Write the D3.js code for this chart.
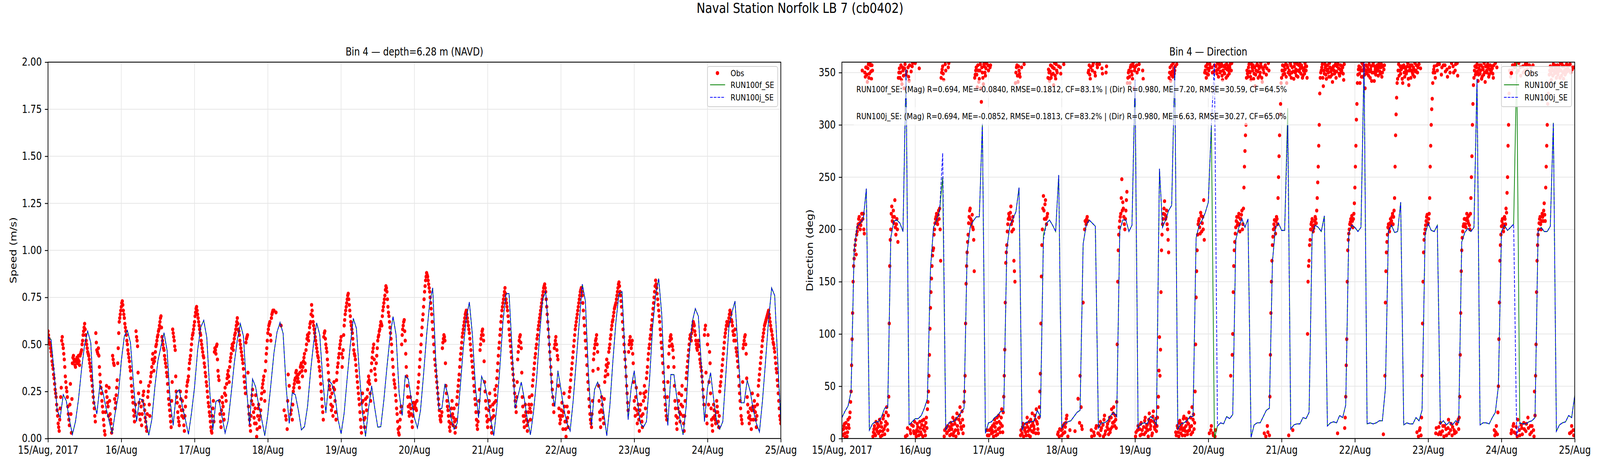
<!DOCTYPE html>
<html>
<head>
<meta charset="utf-8">
<script src="https://cdn.jsdelivr.net/npm/d3@7"></script>
<style>
  html, body { margin: 0; padding: 0; background: #fff; overflow: hidden; }
  svg { display: block; width: 100vw; height: 100vh; font-family: "DejaVu Sans", sans-serif; }
</style>
</head>
<body>
<svg id="fig"></svg>
<script>
// ---------------------------------------------
// Naval Station Norfolk LB 7 (cb0402), bin 4
// obs every 10 min (two arrays, :00/:20/:40 and :10/:30/:50), model hourly
// all series start 15/Aug/2017 00:00 UTC
// ---------------------------------------------

const runNames = ['RUN100f_SE', 'RUN100j_SE'];
const runColors = ['#008000', '#0000ff'];

const speedTicks = [0, 0.25, 0.5, 0.75, 1.0, 1.25, 1.5, 1.75, 2.0];
const dirTicks = [0, 50, 100, 150, 200, 250, 300, 350];

// observed speed (m/s) at :00, :20, :40
const obsSpeed = [
  .57,.53,.50,.46,.41,.37,.32,.26,.22,.15,.08,.04,
  .16,.27,.54,.48,.42,.33,.27,.22,.13,.07,.29,.03,
  .40,.44,.41,.38,.42,.40,.44,.39,.45,.47,.52,.57,
  .61,.55,.50,.46,.44,.40,.36,.31,.25,.19,.12,.56,
  .47,.45,.44,.34,.27,.20,.14,.07,.02,.25,.22,.17,
  .27,.13,.08,.05,.42,.39,.16,.23,.31,.48,.62,.66,
  .70,.73,.68,.64,.59,.55,.50,.45,.41,.36,.28,.22,
  .15,.09,.18,.54,.49,.24,.13,.30,.07,.20,.25,.15,
  .09,.04,.22,.28,.12,.33,.38,.45,.36,.43,.49,.52,
  .55,.58,.62,.65,.54,.50,.47,.42,.38,.33,.25,.18,
  .12,.06,.30,.56,.52,.47,.25,.19,.11,.07,.25,.15,
  .20,.11,.04,.17,.25,.30,.33,.40,.44,.50,.55,.58,
  .62,.67,.70,.66,.62,.58,.55,.50,.46,.43,.38,.33,
  .28,.22,.17,.12,.06,.03,.16,.09,.48,.45,.50,.36,
  .31,.13,.06,.22,.17,.10,.27,.20,.32,.36,.30,.41,
  .45,.50,.47,.53,.56,.60,.64,.58,.55,.50,.46,.42,
  .37,.30,.24,.53,.55,.17,.10,.04,.20,.26,.14,.08,
  .23,.01,.12,.18,.06,.15,.24,.29,.33,.20,.41,.48,
  .56,.60,.62,.52,.66,.68,.68,null,.67,null,null,null,
  null,.60,null,null,.15,null,.10,.05,.34,.28,null,.15,
  .10,.25,.29,.32,.36,.30,.34,.27,.38,.40,.33,.41,
  .45,.36,.50,.55,.52,.59,.62,.71,.65,.60,.56,.52,
  .48,.44,.41,.36,.29,.21,.14,.54,.57,.50,.46,.39,
  .31,.26,.18,.24,.12,.30,.20,.10,.35,.40,.45,.50,
  .54,.38,.47,.60,.66,.70,.74,.77,.71,.65,.60,.56,
  .50,.45,.42,.36,.30,.24,.18,.10,.03,.24,.14,.06,
  .21,.15,.26,.33,.29,.20,.40,.46,.50,.37,.31,.44,
  .52,.55,.58,.62,.60,.68,.72,.76,.81,.78,.70,.65,
  .59,.53,.46,.38,.31,.27,.20,.13,.05,.02,.10,.17,
  .55,.60,.63,.52,.38,.28,.17,.12,.22,.13,.06,.19,
  .17,.19,.15,.24,.30,.38,.46,.55,.63,.70,.78,.84,
  .88,.86,.82,.78,.72,.66,.58,.50,.42,.36,.30,.24,
  .18,.12,.09,.14,.51,.55,.52,.28,.20,.15,.09,.04,
  .12,.20,.07,.16,.03,.10,.22,.28,.34,.42,.48,.54,
  .58,.62,.66,.68,.64,.60,.56,.50,.44,.38,.32,.25,
  .18,.10,.05,.14,.26,.50,.55,.58,.52,.30,.20,.12,
  .06,.15,.24,.10,.03,.18,.12,.26,.20,.32,.40,.48,
  .55,.62,.68,.72,.76,.80,.74,.70,.65,.58,.52,.46,
  .40,.34,.28,.20,.14,.30,.46,.52,.55,.48,.22,.12,
  .06,.18,.10,.04,.14,.22,.10,.18,.28,.34,.40,.45,
  .50,.55,.60,.64,.68,.72,.76,.80,.82,.78,.70,.62,
  .54,.46,.38,.30,.22,.14,.50,.54,.47,.42,.16,.08,
  .12,.19,.05,.24,.09,.01,.17,.06,.22,.27,.34,.40,
  .46,.52,.58,.62,.66,.70,.74,.78,.80,.76,.68,.60,
  .52,.44,.34,.26,.17,.10,.06,.20,.42,.48,.52,.55,
  .46,.28,.14,.06,.22,.14,.08,.30,.36,.42,.34,.46,
  .50,.55,.60,.63,.67,.70,.72,.76,.80,.83,.78,.73,
  .66,.58,.50,.42,.33,.24,.15,.50,.54,.48,.52,.40,
  .20,.12,.27,.08,.18,.04,.24,.12,.06,.20,.28,.16,
  .32,.38,.45,.50,.55,.60,.66,.72,.78,.84,.80,.74,
  .68,.62,.55,.48,.40,.30,.22,.15,.10,.30,.45,.52,
  .55,.50,.47,.38,.20,.12,.05,.16,.24,.09,.18,.28,
  .12,.04,.20,.32,.38,.44,.50,.55,.52,.58,.62,.60,
  .55,.50,.47,.52,.45,.40,.36,.30,.22,.55,.60,.12,
  .50,.18,.46,.24,.10,.04,.18,.12,.08,.20,.14,.06,
  .25,.30,.36,.42,.48,.54,.58,.62,.60,.64,.68,.66,
  .62,.57,.52,.58,.48,.44,.38,.28,.20,.12,.08,.48,
  .52,.55,.45,.22,.14,.08,.16,.05,.24,.10,.20,.14,
  .06,.18,.28,.34,.40,.46,.52,.56,.60,.62,.64,.66,
  .68,.64,.60,.57,.53,.50,.46,.40,.35,.28,.20,.12,
  .08
];

// observed speed (m/s) at :10, :30, :50
const obsSpeedMid = [
  .55,.51,.48,.44,.39,.34,.29,.24,.18,.12,.06,.10,
  .22,.52,.50,.45,.38,.30,.25,.17,.10,.18,.13,.21,
  .43,.42,.39,.41,.43,.42,.41,.44,.46,.50,.55,.59,
  .58,.52,.48,.45,.42,.38,.33,.28,.22,.16,.09,.51,
  .46,.48,.38,.30,.24,.17,.10,.04,.14,.28,.19,.12,
  .20,.10,.03,.44,.40,.21,.19,.27,.40,.56,.64,.68,
  .72,.71,.66,.61,.57,.52,.47,.43,.38,.32,.25,.19,
  .12,.14,.57,.52,.35,.19,.10,.17,.13,.23,.18,.11,
  .06,.13,.25,.18,.30,.35,.42,.40,.41,.46,.50,.54,
  .57,.60,.64,.59,.52,.48,.44,.40,.35,.29,.21,.15,
  .09,.20,.58,.54,.49,.33,.22,.14,.09,.17,.21,.12,
  .15,.07,.12,.22,.28,.31,.37,.42,.47,.53,.56,.60,
  .65,.69,.68,.64,.60,.56,.52,.48,.44,.40,.35,.30,
  .25,.19,.14,.09,.04,.12,.20,.46,.47,.49,.42,.33,
  .20,.09,.15,.19,.13,.24,.23,.29,.34,.33,.38,.43,
  .48,.49,.51,.55,.58,.62,.61,.57,.52,.48,.44,.40,
  .33,.27,.51,.54,.35,.13,.07,.12,.23,.18,.11,.16,
  .08,.05,.16,.10,.12,.21,.27,.31,.25,.36,.45,.52,
  .58,.61,.55,.64,.67,null,null,null,null,null,null,null,
  null,null,null,null,null,.12,null,.20,null,null,.13,null,
  .18,.27,.31,.35,.33,.32,.30,.35,.39,.36,.38,.43,
  .40,.47,.53,.54,.56,.61,.66,.68,.62,.58,.54,.50,
  .46,.43,.38,.33,.25,.17,.10,.56,.53,.48,.42,.35,
  .28,.22,.15,.17,.27,.26,.14,.31,.38,.43,.48,.52,
  .45,.43,.55,.63,.68,.72,.76,.74,.68,.62,.58,.53,
  .47,.44,.39,.33,.27,.21,.14,.06,.19,.20,.10,.11,
  .18,.22,.30,.31,.24,.36,.43,.48,.42,.34,.40,.48,
  .54,.57,.60,.61,.65,.70,.74,.79,.80,.74,.67,.62,
  .56,.50,.42,.34,.29,.23,.16,.09,.03,.06,.14,.50,
  .58,.62,.57,.45,.33,.22,.14,.18,.16,.09,.12,.16,
  .18,.16,.20,.27,.34,.42,.50,.59,.66,.74,.81,.86,
  .87,.84,.80,.75,.69,.62,.54,.46,.39,.33,.27,.21,
  .15,.10,.12,.48,.53,.54,.40,.24,.17,.12,.06,.08,
  .16,.13,.11,.09,.06,.18,.25,.31,.38,.45,.51,.56,
  .60,.64,.67,.66,.62,.58,.53,.47,.41,.35,.28,.21,
  .14,.07,.09,.20,.47,.53,.57,.55,.41,.25,.16,.09,
  .10,.20,.17,.06,.11,.15,.19,.23,.28,.36,.44,.51,
  .58,.65,.70,.74,.78,.77,.72,.68,.62,.55,.49,.43,
  .37,.31,.24,.17,.22,.42,.49,.54,.51,.35,.17,.09,
  .12,.14,.07,.09,.18,.16,.14,.23,.31,.37,.43,.48,
  .53,.58,.62,.66,.70,.74,.78,.81,.80,.74,.66,.58,
  .50,.42,.34,.26,.18,.48,.52,.50,.44,.28,.12,.10,
  .15,.12,.14,.17,.05,.09,.11,.14,.25,.31,.37,.43,
  .49,.55,.60,.64,.68,.72,.76,.79,.78,.72,.64,.56,
  .48,.39,.30,.21,.13,.08,.13,.36,.45,.50,.53,.50,
  .37,.20,.10,.15,.18,.11,.21,.33,.39,.38,.40,.48,
  .53,.58,.62,.65,.69,.71,.74,.78,.82,.81,.76,.70,
  .62,.54,.46,.38,.28,.19,.46,.52,.51,.50,.45,.30,
  .16,.22,.15,.13,.10,.15,.18,.09,.13,.24,.22,.25,
  .35,.42,.48,.53,.58,.63,.69,.75,.81,.82,.77,.71,
  .65,.58,.51,.44,.35,.26,.18,.12,.22,.38,.49,.54,
  .53,.49,.43,.28,.16,.08,.11,.20,.14,.13,.23,.17,
  .08,.12,.26,.35,.41,.47,.53,.54,.56,.60,.61,.57,
  .52,.48,.50,.49,.42,.38,.33,.26,.18,.58,.35,.08,
  .55,.30,.40,.16,.07,.11,.15,.10,.14,.17,.09,.12,
  .28,.33,.39,.45,.51,.56,.60,.61,.62,.66,.67,.63,
  .60,.55,.55,.52,.46,.41,.33,.24,.16,.10,.30,.50,
  .54,.50,.32,.18,.11,.12,.10,.15,.17,.15,.17,.10,
  .12,.23,.31,.37,.43,.49,.54,.58,.61,.63,.65,.67,
  .66,.62,.58,.55,.51,.48,.43,.37,.31,.24,.16,.10
];

// observed direction (deg) at :00, :20, :40
const obsDir = [
  8,3,12,5,15,2,18,10,25,45,95,150,
  172,185,176,198,205,212,200,208,352,215,196,346,
  355,341,358,349,357,344,352,6,12,3,9,14,
  5,18,2,11,7,22,4,16,30,8,40,165,
  200,222,212,206,228,195,210,188,350,345,357,339,
  352,335,358,348,3,355,342,8,351,356,12,5,
  359,2,14,7,354,10,4,17,9,12,3,20,
  28,45,80,125,153,175,182,200,210,215,205,218,
  220,170,350,356,343,8,352,5,12,359,3,15,
  9,20,6,14,2,24,8,18,30,11,26,5,
  35,60,148,178,195,212,220,205,214,200,160,348,
  355,336,352,344,358,322,350,339,356,347,359,3,
  352,8,357,5,12,2,18,7,15,4,22,10,
  14,28,6,40,85,168,185,205,215,210,222,198,
  212,170,150,350,357,341,352,346,8,5,14,358,
  10,3,20,7,16,2,12,24,6,9,18,28,
  14,5,30,62,155,200,232,210,228,205,215,353,
  342,357,348,355,338,359,344,352,4,356,9,349,
  3,12,358,6,15,22,2,null,8,null,null,null,
  null,7,null,null,38,null,60,30,9,130,null,208,
  205,212,350,357,344,8,352,359,3,347,12,355,
  5,358,16,10,349,2,22,7,356,14,4,20,
  9,28,15,30,12,18,35,150,195,208,215,248,
  226,212,200,218,236,345,352,340,357,348,359,335,
  355,6,350,12,358,3,15,8,344,4,20,10,
  13,2,24,9,17,5,26,11,14,7,20,40,
  97,85,180,205,215,227,210,218,200,178,350,342,
  357,346,354,352,6,358,10,2,17,5,14,8,
  21,3,12,16,7,25,11,4,30,18,9,45,
  135,180,205,210,196,213,206,200,190,352,345,358,
  348,5,355,12,350,3,357,8,352,359,346,355,
  351,358,343,356,349,354,358,347,352,355,60,359,
  100,165,188,202,212,206,215,198,210,218,205,240,
  275,300,352,346,358,350,343,355,357,349,337,352,
  358,345,354,350,356,341,353,5,357,348,12,359,
  3,80,150,185,200,209,196,212,205,250,290,320,
  345,357,352,349,358,340,355,3,348,357,350,8,
  344,359,353,352,346,357,358,349,355,347,354,359,
  352,345,150,170,190,205,210,198,204,212,206,230,
  260,300,345,352,358,337,349,355,344,357,350,359,
  346,353,341,356,349,358,351,5,354,347,357,352,
  355,343,10,40,95,180,196,205,210,213,202,215,
  240,280,320,348,356,340,352,359,346,354,335,357,
  349,353,358,345,356,350,359,342,353,351,357,347,
  355,349,358,350,4,357,130,178,195,205,198,210,
  208,215,212,230,290,326,344,358,352,349,356,340,
  357,346,353,351,359,338,355,345,357,348,353,359,
  352,6,355,358,10,3,60,150,190,200,208,214,
  206,215,260,300,325,350,356,345,10,352,4,358,
  15,348,7,357,12,351,3,346,18,355,8,359,
  11,350,5,358,14,347,9,40,120,180,198,205,
  210,202,215,208,213,200,230,270,320,345,356,350,
  358,342,354,349,357,346,353,359,341,356,350,355,
  348,357,352,354,345,8,359,12,4,50,130,185,
  203,210,198,212,205,216,250,300,352,346,8,357,
  14,355,5,350,18,359,3,347,10,356,15,352,
  7,358,20,349,4,355,12,357,2,22,90,170,
  195,206,212,200,215,208,225,208,260,300,330,348,
  356,343,352,358,349,355,345,357,351,353,359,347,
  356,344,352,349,358,354,357,5,350,12,355,3,
  8
];

// observed direction (deg) at :10, :30, :50
const obsDirMid = [
  4,9,14,1,10,6,13,20,35,70,120,165,
  180,190,195,202,210,206,204,215,210,200,350,355,
  348,354,345,359,351,357,2,9,4,16,7,11,
  12,7,15,3,19,9,12,25,14,22,110,190,
  215,208,218,212,202,205,200,345,354,350,343,355,
  347,354,2,351,10,346,357,5,13,359,7,16,
  5,8,11,3,16,6,13,2,18,7,15,10,
  35,60,105,140,165,180,195,206,212,208,214,210,
  200,345,353,349,2,358,10,6,355,8,11,4,
  13,3,17,8,19,12,5,22,15,9,18,12,
  45,110,165,188,206,218,210,208,202,190,345,352,
  348,357,341,352,335,355,345,358,350,354,8,357,
  3,355,10,8,6,14,11,3,20,9,16,6,
  20,12,25,60,130,178,198,210,212,216,205,208,
  200,160,340,355,347,356,349,3,355,11,2,8,
  6,14,11,3,9,18,7,15,12,22,5,16,
  9,20,45,110,185,220,218,224,210,212,345,350,
  351,345,356,349,354,347,358,350,6,2,355,8,
  9,5,14,11,19,null,null,null,null,null,null,null,
  null,null,null,null,null,15,null,12,null,null,200,null,
  210,208,352,348,355,2,357,6,350,10,358,5,
  12,3,8,354,13,18,4,350,11,9,17,6,
  20,11,24,16,22,10,90,180,202,212,230,218,
  220,205,210,228,340,350,346,355,351,344,356,352,
  2,357,8,353,9,14,4,352,11,17,6,13,
  8,18,15,12,3,21,16,9,19,12,30,65,
  60,140,195,210,220,214,212,205,190,345,355,348,
  351,359,349,356,3,12,6,15,9,11,3,19,
  10,7,19,4,14,8,20,12,6,23,15,90,
  160,195,208,202,216,198,212,228,350,356,349,354,
  352,358,8,355,5,351,2,356,349,353,358,350,
  356,347,352,350,357,345,353,356,349,358,352,80,
  140,180,196,208,204,212,205,210,214,200,220,260,
  290,345,349,355,351,346,358,352,344,355,348,357,
  351,356,347,359,345,354,350,356,2,354,6,352,
  40,120,170,193,205,202,208,210,230,270,310,340,
  352,348,356,353,346,357,350,352,359,345,355,351,
  356,350,347,358,352,351,354,357,345,352,349,356,
  356,100,165,185,200,207,203,201,208,210,218,245,
  280,330,350,355,345,352,358,348,352,353,346,355,
  351,348,355,352,357,345,356,358,349,353,350,356,
  349,358,20,70,150,190,200,207,204,208,210,225,
  260,305,340,353,349,355,346,352,357,348,352,350,
  355,347,351,353,342,357,350,356,348,355,352,358,
  351,355,346,356,353,60,160,188,202,201,206,204,
  212,205,218,260,310,340,352,347,356,353,344,355,
  350,355,349,356,344,352,357,352,350,355,346,351,
  357,350,2,8,354,20,110,178,196,204,212,205,
  210,230,280,315,340,353,350,5,357,358,11,6,
  4,355,12,2,357,9,353,10,5,350,14,3,
  356,8,352,6,359,18,20,80,160,192,203,210,
  205,209,211,206,204,215,250,300,338,352,348,355,
  351,348,357,352,344,355,348,350,356,352,358,346,
  353,350,356,349,357,3,6,355,25,95,170,195,
  208,205,202,210,220,235,280,330,350,5,352,12,
  6,358,11,2,352,8,355,13,4,350,9,358,
  14,353,10,357,12,6,350,8,45,60,140,185,
  200,210,205,208,212,218,214,240,280,320,340,352,
  349,355,347,352,357,350,353,348,356,345,352,358,
  350,356,348,353,351,357,352,358,6,353,8,355
];

// modelled speed (m/s), hourly; both runs overlap in this panel
const modelSpeed = [
  .54,.525,.35,.15,.112,.233,.20,.10,.022,.09,.21,.37,.50,.57,.51,.20,.13,.285,.245,.163,.094,.026,.136,.226,
  .41,.544,.574,.51,.29,.091,.212,.205,.101,.017,.101,.274,.413,.489,.562,.468,.20,.07,.243,.26,.17,.10,.022,.136,
  .274,.468,.59,.628,.538,.246,.046,.198,.205,.115,.029,.094,.24,.399,.524,.61,.544,.274,.073,.316,.274,.177,.101,.015,
  .129,.288,.454,.565,.617,.558,.274,.08,.243,.233,.15,.046,.063,.17,.357,.51,.614,.551,.309,.136,.309,.288,.226,.101,
  .025,.136,.323,.496,.638,.586,.344,.136,.011,.163,.28,.163,.06,.063,.205,.378,.538,.648,.551,.24,.122,.333,.316,.205,
  .11,.056,.15,.34,.55,.72,.80,.41,.157,.16,.29,.23,.11,.05,.08,.27,.48,.64,.725,.55,.27,.11,.33,.29,
  .21,.10,.015,.17,.38,.62,.77,.77,.47,.16,.23,.30,.21,.10,.02,.14,.31,.55,.74,.78,.56,.25,.17,.36,
  .26,.15,.08,.04,.20,.41,.62,.82,.73,.34,.07,.26,.30,.25,.14,.015,.17,.41,.62,.77,.78,.44,.10,.27,
  .36,.21,.08,.06,.09,.31,.59,.76,.85,.66,.27,.07,.34,.34,.21,.10,.02,.17,.45,.62,.69,.65,.38,.09,
  .27,.35,.21,.09,.05,.09,.34,.59,.67,.73,.47,.19,.19,.31,.25,.15,.08,.035,.20,.41,.63,.80,.76,.41,.09
];

// modelled direction (deg), hourly
const modelDirF = [
  20,26,31,45,180,203,206,210,239,8,14,16,16,21,29,30,192,208,209,206,198,353,13,16,
  19,19,22,29,38,162,202,209,218,250,8,15,16,17,21,25,29,178,202,208,212,212,301,5,
  15,16,20,22,26,26,181,204,210,217,240,8,15,16,16,17,27,21,195,206,209,204,198,252,
  10,15,16,17,21,25,27,186,204,209,206,203,10,15,15,17,22,25,21,199,209,209,198,204,
  343,10,14,15,14,21,19,13,258,202,209,218,223,356,9,14,15,17,21,21,192,204,209,216,
  226,300,0,12,15,14,21,19,23,190,202,210,202,210,1,13,15,15,21,27,29,169,202,206,
  199,199,316,9,13,14,14,20,19,25,196,204,202,198,213,12,15,16,15,22,20,32,196,204,
  202,198,202,360,14,15,14,15,17,17,48,199,204,197,198,226,13,15,14,14,20,17,27,195,
  206,199,198,204,14,17,13,16,13,17,15,188,197,201,198,202,344,13,15,15,14,20,25,50,
  198,204,199,202,205,360,15,14,14,16,17,20,198,202,198,198,203,302,7,13,15,16,22,20,41
];
const modelDirJ = [
  20,26,31,45,180,203,206,210,239,8,14,16,16,21,29,30,192,208,209,206,198,353,13,16,
  19,19,22,29,38,162,202,209,218,273,8,15,16,17,21,25,29,178,202,208,212,212,301,5,
  15,16,20,22,26,26,181,204,210,217,240,8,15,16,16,17,27,21,190,206,209,204,198,252,
  10,15,16,17,21,25,27,186,204,209,206,203,10,15,15,17,22,25,21,199,209,209,198,204,
  343,10,14,15,14,21,19,13,258,202,209,218,223,356,9,14,15,17,21,21,192,204,209,216,
  226,300,359,12,15,14,21,19,23,190,202,210,202,210,1,13,15,15,21,27,29,169,202,206,
  199,199,300,9,13,14,14,20,19,25,196,204,202,198,213,12,15,16,15,22,20,32,196,204,
  202,198,202,360,14,15,14,15,17,17,48,199,204,197,198,226,13,15,14,14,20,17,27,195,
  206,199,198,204,14,17,13,16,13,17,15,188,197,201,198,202,344,13,15,15,14,20,25,50,
  198,204,199,202,205,2,15,14,14,16,17,20,198,202,198,198,203,302,7,13,15,16,22,20,41
];

const statLines = [
  'RUN100f_SE: (Mag) R=0.694, ME=-0.0840, RMSE=0.1812, CF=83.1% | (Dir) R=0.980, ME=7.20, RMSE=30.59, CF=64.5%',
  'RUN100j_SE: (Mag) R=0.694, ME=-0.0852, RMSE=0.1813, CF=83.2% | (Dir) R=0.980, ME=6.63, RMSE=30.27, CF=65.0%'
];

// ---------------------------------------------
const T0 = Date.UTC(2017, 7, 15);
const T1 = Date.UTC(2017, 7, 25);
const HOUR = 3600e3;
const OBS_STEP = 20 * 60e3;
const MID_OFFSET = 10 * 60e3;

const W = 5000, H = 1200;
const PW = 2290, PH = 963, TOP = 159;

// the figure is laid out in 5000x1200 units and stretched onto the window
const svg = d3.select('#fig')
  .attr('viewBox', `0 0 ${W} ${H}`)
  .attr('preserveAspectRatio', 'none');
svg.append('rect').attr('width', W).attr('height', H).attr('fill', '#fff');

svg.append('text')
  .attr('x', W / 2).attr('y', 33)
  .attr('text-anchor', 'middle')
  .style('font-size', '36px')
  .text('Naval Station Norfolk LB 7 (cb0402)');

const fmtFirst = d3.utcFormat('%d/%b, %Y');
const fmtDay = d3.utcFormat('%d/%b');

function obsPoints(arr, offset) {
  return arr.map((v, i) => ({ t: T0 + offset + i * OBS_STEP, v })).filter(d => d.v != null);
}

function drawPanel(opt) {
  const g = svg.append('g').attr('transform', `translate(${opt.left},${TOP})`);

  const x = d3.scaleUtc().domain([T0, T1]).range([0, PW]);
  const y = d3.scaleLinear().domain(opt.yDomain).range([PH, 0]);
  const days = d3.utcDay.range(T0, T1 + 1);

  // grid
  g.append('g').selectAll('line').data(days).enter().append('line')
    .attr('x1', d => x(d)).attr('x2', d => x(d)).attr('y1', 0).attr('y2', PH)
    .attr('stroke', '#e6e6e6').attr('stroke-width', 2);
  g.append('g').selectAll('line').data(opt.yTicks).enter().append('line')
    .attr('x1', 0).attr('x2', PW).attr('y1', d => y(d)).attr('y2', d => y(d))
    .attr('stroke', '#e6e6e6').attr('stroke-width', 2);

  const clipId = 'clip-' + opt.key;
  g.append('clipPath').attr('id', clipId)
    .append('rect').attr('width', PW).attr('height', PH);
  const plot = g.append('g').attr('clip-path', `url(#${clipId})`);

  const obs = obsPoints(opt.obs, 0).concat(obsPoints(opt.obsMid, MID_OFFSET));
  plot.append('g').selectAll('circle').data(obs).enter().append('circle')
    .attr('cx', d => x(d.t)).attr('cy', d => y(d.v)).attr('r', 5)
    .attr('fill', '#ff0000');

  const line = d3.line().x((d, i) => x(T0 + i * HOUR)).y(d => y(d));
  plot.append('path').datum(opt.modelF).attr('d', line)
    .attr('fill', 'none').attr('stroke', runColors[0]).attr('stroke-width', 2.2);
  plot.append('path').datum(opt.modelJ).attr('d', line)
    .attr('fill', 'none').attr('stroke', runColors[1]).attr('stroke-width', 2.2)
    .attr('stroke-dasharray', '8.2,3.5');

  // axes
  const xAxis = g.append('g').attr('transform', `translate(0,${PH})`)
    .call(d3.axisBottom(x).tickValues(days).tickSize(9.7).tickPadding(9.7)
      .tickFormat((d, i) => i === 0 ? fmtFirst(d) : fmtDay(d)));
  const yAxis = g.append('g')
    .call(d3.axisLeft(y).tickValues(opt.yTicks).tickSize(9.7).tickPadding(9.7)
      .tickFormat(opt.tickFormat));
  [xAxis, yAxis].forEach(a => {
    a.select('.domain').remove();
    a.attr('font-family', null).attr('font-size', null);
    a.selectAll('line').attr('stroke', '#000').attr('stroke-width', 2.2);
    a.selectAll('text').attr('fill', '#000').style('font-size', '28px');
  });

  // spines
  g.append('rect').attr('width', PW).attr('height', PH)
    .attr('fill', 'none').attr('stroke', '#000').attr('stroke-width', 2.2);

  g.append('text')
    .attr('x', PW / 2).attr('y', -17)
    .attr('text-anchor', 'middle')
    .style('font-size', '28px')
    .text(opt.title);

  g.append('text')
    .attr('transform', `translate(${opt.labelX},${PH / 2}) rotate(-90)`)
    .attr('text-anchor', 'middle')
    .style('font-size', '28px')
    .text(opt.yLabel);

  // stats boxes
  if (opt.stats) {
    opt.stats.forEach((s, i) => {
      const sg = g.append('g');
      const box = sg.append('rect');
      const txt = sg.append('text')
        .attr('x', 45).attr('y', 77 + i * 69)
        .style('font-size', '22px')
        .text(s);
      const bb = txt.node().getBBox();
      box.attr('x', bb.x - 8).attr('y', bb.y - 10)
        .attr('width', bb.width + 16).attr('height', bb.height + 20)
        .attr('fill', '#fff').attr('fill-opacity', 0.65);
    });
  }

  // legend, upper right
  const lg = g.append('g').attr('transform', `translate(${PW - 229},11)`);
  lg.append('rect').attr('width', 219).attr('height', 103).attr('rx', 5)
    .attr('fill', '#fff').attr('fill-opacity', 0.88)
    .attr('stroke', '#cccccc').attr('stroke-width', 2);
  lg.append('circle').attr('cx', 31).attr('cy', 17).attr('r', 5.3).attr('fill', '#ff0000');
  lg.append('line').attr('x1', 8).attr('x2', 55).attr('y1', 47).attr('y2', 47)
    .attr('stroke', runColors[0]).attr('stroke-width', 2.2);
  lg.append('line').attr('x1', 8).attr('x2', 55).attr('y1', 79).attr('y2', 79)
    .attr('stroke', runColors[1]).attr('stroke-width', 2.2).attr('stroke-dasharray', '8.2,3.5');
  ['Obs', runNames[0], runNames[1]].forEach((name, i) => {
    lg.append('text').attr('x', 72).attr('y', [17, 47, 79][i] + 8)
      .style('font-size', '22px').text(name);
  });
}

drawPanel({
  key: 'speed', left: 150,
  yDomain: [0, 2], yTicks: speedTicks, tickFormat: d3.format('.2f'),
  obs: obsSpeed, obsMid: obsSpeedMid, modelF: modelSpeed, modelJ: modelSpeed,
  title: 'Bin 4 \u2014 depth=6.28 m (NAVD)', yLabel: 'Speed (m/s)', labelX: -99
});

drawPanel({
  key: 'dir', left: 2631,
  yDomain: [0, 360], yTicks: dirTicks, tickFormat: d3.format('d'),
  obs: obsDir, obsMid: obsDirMid, modelF: modelDirF, modelJ: modelDirJ,
  title: 'Bin 4 \u2014 Direction', yLabel: 'Direction (deg)', labelX: -91,
  stats: statLines
});
</script>
</body>
</html>
